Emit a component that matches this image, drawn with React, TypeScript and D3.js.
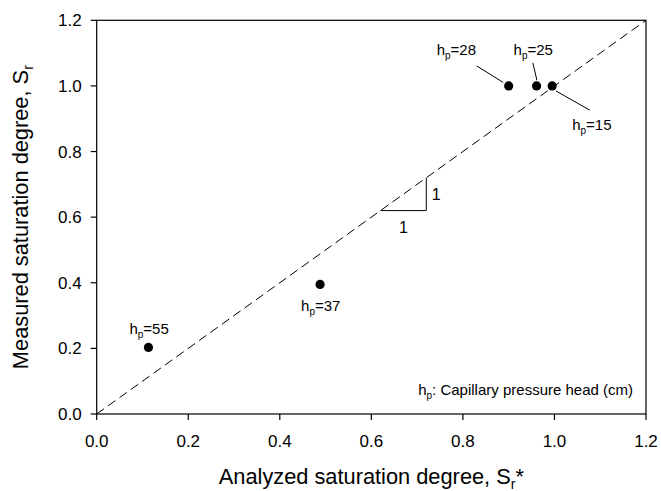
import React from "react";
import * as d3 from "d3";

const pointsX = [0.113, 0.488, 0.9, 0.961, 0.995];
const pointsY = [0.203, 0.395, 1.0, 1.0, 1.0];
const pointLabels = ["55", "37", "28", "25", "15"];
const xTicks = [0, 0.2, 0.4, 0.6, 0.8, 1.0, 1.2];
const yTicks = [0, 0.2, 0.4, 0.6, 0.8, 1.0, 1.2];
const lineX = [0, 1.2];
const triangleX = [0.62, 0.72];

// label placement (pixel offsets from the point)
const labelLayout = [
  { dx: -19, dy: -13, leader: null },
  { dx: -19, dy: 26.5, leader: null },
  { dx: -72, dy: -31, leader: [-32, -20, -5.5, -3.5] },
  { dx: -23, dy: -31, leader: [-3.7, -23, 0.3, -5.7] },
  { dx: 20, dy: 44, leader: [3.7, 5, 37.7, 24.3] },
];

const W = 661;
const H = 491;
const L = 96.7;
const R = 646;
const T = 20.3;
const B = 414;
const FONT = "Arial, 'Liberation Sans', sans-serif";

export default function App() {
  const x = d3.scaleLinear().domain([0, 1.2]).range([L, R]);
  const y = d3.scaleLinear().domain([0, 1.2]).range([B, T]);
  const line = d3
    .line<number>()
    .x((d) => x(d))
    .y((d) => y(d));

  return (
    <svg
      width={W}
      height={H}
      style={{ position: "absolute", left: 0, top: 0, background: "#fff" }}
      fontFamily={FONT}
    >
      <rect x={0} y={0} width={W} height={H} fill="#fff" />
      {/* diagonal 1:1 line */}
      <path
        d={line(lineX) || ""}
        fill="none"
        stroke="#000"
        strokeWidth={1}
        strokeDasharray="9,5"
      />
      {/* slope triangle */}
      <path
        d={`M${x(triangleX[0])},${y(triangleX[0])}H${x(triangleX[1])}V${y(triangleX[1])}`}
        fill="none"
        stroke="#000"
        strokeWidth={1}
      />
      <text x={x(triangleX[1]) + 5.5} y={y((triangleX[0] + triangleX[1]) / 2) + 6} fontSize={16}>
        1
      </text>
      <text
        x={x((triangleX[0] + triangleX[1]) / 2)}
        y={y(triangleX[0]) + 22}
        fontSize={16}
        textAnchor="middle"
      >
        1
      </text>

      {/* frame */}
      <rect x={L} y={T} width={R - L} height={B - T} fill="none" stroke="#000" strokeWidth={1.2} />
      {/* x ticks */}
      {xTicks.map((t) => (
        <g key={"x" + t}>
          <line x1={x(t)} x2={x(t)} y1={B} y2={B + 6} stroke="#000" strokeWidth={1.2} />
          <text x={x(t)} y={B + 32.5} fontSize={17} textAnchor="middle">
            {d3.format(".1f")(t)}
          </text>
        </g>
      ))}
      {/* y ticks */}
      {yTicks.map((t) => (
        <g key={"y" + t}>
          <line x1={L - 6} x2={L} y1={y(t)} y2={y(t)} stroke="#000" strokeWidth={1.2} />
          <text x={L - 15} y={y(t) + 6} fontSize={17} textAnchor="end">
            {d3.format(".1f")(t)}
          </text>
        </g>
      ))}

      {/* points */}
      {pointsX.map((px, i) => (
        <circle key={"p" + i} cx={x(px)} cy={y(pointsY[i])} r={4.6} fill="#000" />
      ))}
      {/* labels */}
      {pointsX.map((px, i) => {
        const cx = x(px);
        const cy = y(pointsY[i]);
        const lay = labelLayout[i];
        return (
          <g key={"l" + i}>
            {lay.leader && (
              <line
                x1={cx + lay.leader[0]}
                y1={cy + lay.leader[1]}
                x2={cx + lay.leader[2]}
                y2={cy + lay.leader[3]}
                stroke="#000"
                strokeWidth={1}
              />
            )}
            <text x={cx + lay.dx} y={cy + lay.dy} fontSize={15}>
              h
              <tspan fontSize={10} dy={4}>
                p
              </tspan>
              <tspan dy={-4}>={pointLabels[i]}</tspan>
            </text>
          </g>
        );
      })}

      {/* note */}
      <text x={633} y={395} fontSize={15} textAnchor="end">
        h
        <tspan fontSize={10} dy={4}>
          p
        </tspan>
        <tspan dy={-4}>: Capillary pressure head (cm)</tspan>
      </text>

      {/* axis titles */}
      <text x={(L + R) / 2} y={484} fontSize={21.8} textAnchor="middle">
        Analyzed saturation degree, S
        <tspan fontSize={14} dy={5}>
          r
        </tspan>
        <tspan dy={-5}>*</tspan>
      </text>
      <text
        transform={`translate(28,${(T + B) / 2}) rotate(-90)`}
        fontSize={21.8}
        textAnchor="middle"
      >
        Measured saturation degree, S
        <tspan fontSize={14} dy={5}>
          r
        </tspan>
      </text>
    </svg>
  );
}
